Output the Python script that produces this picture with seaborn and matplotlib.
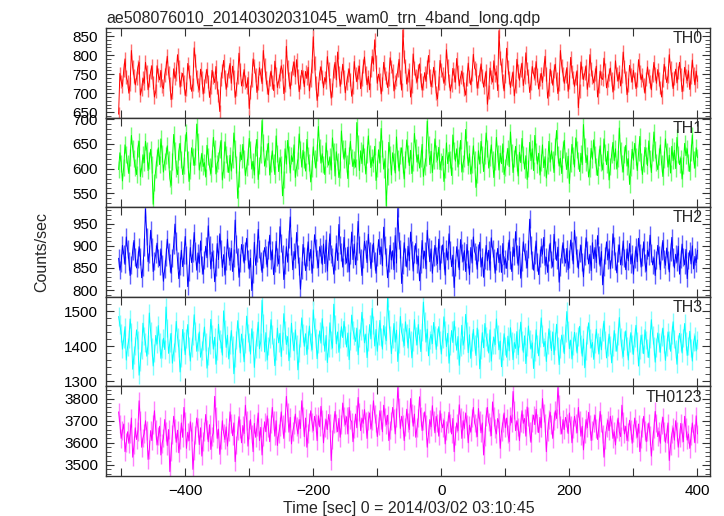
import numpy as np
import pandas as pd
import matplotlib
matplotlib.use("Agg")
import matplotlib.pyplot as plt
from matplotlib.ticker import MultipleLocator, FuncFormatter
import seaborn as sns

# light curve bins: start time [s] and bin width [s]
t_start = -504
bin_sec = 2

th0 = [
    645, 752, 731, 718, 760, 790, 742, 731, 700, 725, 812, 768, 745, 722, 739, 768, 781, 695, 710, 740, 726, 781, 756, 709, 733,
    756, 772, 728, 690, 705, 772, 748, 735, 760, 719, 712, 748, 767, 797, 754, 725, 683, 702, 764, 739, 751, 801, 770, 716, 738,
    752, 729, 694, 711, 778, 757, 730, 705, 723, 819, 786, 744, 721, 708, 763, 741, 698, 719, 745, 763, 731, 689, 717, 760, 741,
    728, 770, 715, 694, 652, 738, 759, 786, 744, 710, 734, 757, 778, 726, 771, 742, 689, 711, 743, 805, 762, 719, 737, 762, 729,
    715, 741, 660, 703, 734, 790, 771, 748, 702, 727, 767, 749, 725, 812, 774, 741, 716, 696, 738, 758, 730, 707, 784, 752, 715,
    732, 749, 772, 758, 699, 722, 823, 769, 737, 711, 740, 766, 782, 743, 788, 746, 704, 729, 760, 744, 717, 757, 739, 768, 706,
    735, 772, 848, 779, 727, 681, 712, 753, 769, 744, 714, 741, 729, 796, 763, 723, 687, 709, 759, 781, 735, 808, 754, 718, 741,
    776, 742, 701, 726, 747, 764, 736, 692, 715, 783, 750, 730, 755, 771, 712, 738, 771, 795, 753, 722, 744, 709, 761, 797, 776,
    840, 781, 726, 750, 734, 698, 724, 781, 752, 741, 715, 738, 793, 770, 758, 706, 729, 736, 760, 789, 742, 708, 866, 796, 772,
    724, 747, 761, 690, 718, 803, 766, 745, 729, 758, 777, 735, 708, 726, 754, 731, 768, 799, 745, 717, 733, 768, 742, 701, 685,
    727, 786, 760, 750, 726, 739, 814, 772, 733, 706, 721, 765, 748, 729, 791, 755, 719, 742, 757, 737, 711, 695, 736, 779, 744,
    722, 749, 802, 766, 760, 713, 731, 751, 777, 745, 716, 738, 758, 671, 704, 766, 742, 729, 785, 747, 756, 707, 864, 792, 774,
    732, 706, 744, 818, 769, 741, 715, 738, 756, 693, 718, 789, 758, 734, 761, 779, 720, 743, 806, 765, 746, 702, 727, 770, 752,
    739, 783, 748, 711, 736, 752, 728, 763, 797, 751, 687, 712, 763, 744, 721, 758, 776, 738, 699, 724, 812, 773, 750, 726, 745,
    767, 705, 729, 794, 757, 741, 718, 740, 759, 662, 706, 782, 754, 736, 753, 772, 710, 734, 801, 764, 743, 727, 749, 771, 690,
    718, 758, 740, 736, 792, 761, 714, 733, 749, 766, 737, 703, 726, 785, 751, 732, 755, 719, 746, 808, 770, 741, 696, 722, 773,
    748, 729, 760, 738, 712, 734, 788, 757, 735, 748, 721, 700, 738, 769, 745, 731, 709, 747, 781, 752, 726, 762, 738, 715, 690,
    733, 776, 754, 728, 745, 801, 766, 738, 712, 740, 763, 727, 754, 781, 749, 704, 723, 768, 745, 733, 759, 710, 742, 787, 750,
    722, 758, 731,
]

th1 = [
    598, 632, 611, 575, 603, 648, 629, 611, 590, 622, 667, 641, 620, 603, 588, 641, 655, 584, 601, 628, 612, 655, 637, 596, 617,
    639, 608, 528, 572, 598, 623, 642, 608, 660, 631, 593, 615, 627, 646, 618, 580, 566, 614, 669, 637, 601, 588, 635, 651, 619,
    588, 607, 652, 673, 619, 574, 597, 642, 625, 606, 625, 690, 654, 597, 612, 631, 604, 612, 583, 647, 624, 604, 590, 621, 663,
    640, 589, 611, 616, 638, 657, 577, 598, 654, 628, 610, 592, 627, 595, 618, 672, 641, 608, 540, 579, 633, 618, 649, 620, 586,
    603, 624, 661, 639, 599, 615, 587, 642, 659, 578, 606, 629, 697, 652, 605, 620, 634, 651, 587, 611, 636, 613, 588, 666, 630,
    594, 622, 609, 545, 578, 640, 609, 657, 629, 591, 626, 614, 648, 582, 603, 617, 670, 638, 603, 637, 618, 595, 659, 626, 612,
    573, 601, 644, 620, 601, 632, 685, 643, 611, 630, 609, 588, 652, 621, 607, 624, 597, 662, 635, 585, 634, 615, 582, 598, 676,
    640, 619, 641, 611, 580, 627, 655, 622, 604, 618, 603, 693, 651, 596, 636, 610, 648, 624, 589, 629, 666, 631, 602, 623, 611,
    645, 576, 601, 638, 611, 681, 640, 599, 620, 525, 584, 653, 628, 587, 632, 614, 591, 664, 621, 595, 626, 642, 609, 579, 619,
    658, 630, 606, 637, 590, 612, 671, 642, 613, 628, 601, 620, 649, 584, 605, 622, 696, 648, 608, 635, 592, 617, 660, 631, 617,
    643, 598, 614, 625, 574, 599, 652, 610, 633, 618, 586, 668, 637, 615, 640, 603, 627, 657, 593, 611, 621, 679, 638, 606, 630,
    589, 608, 646, 618, 562, 587, 636, 609, 655, 629, 594, 627, 672, 641, 601, 623, 648, 619, 582, 614, 663, 630, 597, 631, 610,
    650, 588, 603, 625, 641, 604, 674, 633, 592, 620, 645, 612, 585, 633, 612, 661, 628, 599, 626, 578, 601, 653, 616, 640, 596,
    667, 634, 609, 631, 587, 613, 648, 602, 624, 581, 606, 655, 613, 636, 619, 592, 644, 677, 628, 605, 621, 590, 639, 657, 616,
    598, 625, 570, 611, 649, 627, 603, 662, 638, 616, 594, 631, 608, 689, 645, 612, 626, 583, 601, 641, 619, 658, 629, 604, 586,
    623, 646, 612, 597, 660, 632, 608, 635, 577, 604, 628, 653, 616, 640, 599, 621, 682, 636, 610, 593, 629, 647, 605, 620, 568,
    602, 639, 617, 651, 624, 596, 632, 665, 614, 588, 610, 643, 627, 606, 656, 620, 592, 633, 674, 639, 612, 598, 625, 648, 611,
    584, 619, 660, 635, 603, 627, 591, 645, 616, 637, 600, 663, 629, 608, 621, 579, 606, 651, 626, 640, 613, 594, 632, 668, 618,
    601, 642, 622,
]

th2 = [
    872, 845, 861, 901, 882, 858, 920, 893, 866, 833, 857, 889, 912, 874, 850, 869, 898, 876, 828, 851, 897, 983, 921, 864, 881,
    935, 897, 842, 866, 881, 906, 873, 855, 893, 860, 820, 848, 874, 915, 887, 861, 838, 872, 902, 949, 910, 867, 826, 854, 890,
    853, 878, 921, 879, 808, 840, 896, 862, 883, 930, 889, 845, 884, 860, 911, 857, 836, 868, 899, 873, 945, 902, 848, 886, 871,
    819, 853, 905, 869, 927, 892, 851, 880, 834, 866, 915, 877, 866, 894, 842, 873, 958, 904, 876, 829, 862, 903, 885, 861, 888,
    917, 871, 847, 872, 799, 836, 908, 856, 884, 937, 893, 865, 840, 871, 896, 879, 852, 890, 924, 868, 891, 835, 862, 910, 874,
    859, 943, 906, 881, 824, 857, 898, 863, 916, 965, 899, 846, 887, 871, 930, 882, 855, 802, 845, 903, 877, 844, 874, 909, 866,
    892, 838, 870, 925, 896, 870, 851, 898, 882, 858, 904, 860, 913, 843, 889, 927, 881, 874, 836, 866, 905, 867, 948, 901, 886,
    852, 919, 878, 861, 897, 841, 879, 931, 869, 904, 857, 888, 955, 903, 872, 833, 870, 910, 893, 862, 926, 889, 849, 884, 906,
    865, 838, 875, 914, 880, 897, 855, 942, 901, 875, 828, 861, 901, 868, 889, 846, 923, 861, 984, 912, 893, 815, 857, 907, 874,
    852, 899, 866, 931, 890, 843, 882, 905, 859, 876, 821, 859, 912, 870, 888, 848, 935, 897, 864, 893, 838, 874, 901, 877, 860,
    915, 846, 881, 902, 867, 834, 894, 868, 927, 891, 853, 879, 806, 851, 898, 872, 846, 914, 883, 865, 889, 842, 903, 870, 835,
    896, 861, 920, 887, 879, 847, 885, 908, 852, 874, 829, 867, 901, 866, 890, 845, 918, 894, 873, 838, 866, 894, 862, 881, 840,
    905, 857, 871, 849, 888, 913, 868, 842, 897, 876, 932, 881, 856, 899, 827, 864, 909, 887, 871, 850, 893, 960, 902, 868, 845,
    879, 911, 863, 835, 872, 898, 881, 919, 856, 874, 840, 885, 906, 869, 852, 926, 890, 867, 897, 818, 853, 882, 907, 875, 861,
    894, 846, 871, 913, 888, 859, 935, 902, 872, 849, 883, 901, 864, 830, 876, 918, 890, 859, 881, 844, 907, 871, 896, 862, 923,
    880, 854, 887, 812, 851, 878, 909, 868, 893, 848, 871, 927, 899, 866, 839, 884, 902, 857, 876, 911, 873, 846, 893, 866, 905,
    859, 882, 836, 870, 898, 864, 917, 885, 852, 874, 909, 861, 843, 890, 876, 924, 883, 857, 872, 833, 868, 901, 879, 846, 888,
    912, 871, 856, 895, 868, 841, 886, 919, 874, 850, 881, 863, 899, 836, 870, 904, 875, 857, 892, 826, 867, 889, 859, 900, 848,
    876, 862, 890,
]

th3 = [
    1485, 1462, 1438, 1392, 1421, 1456, 1361, 1398, 1420, 1478, 1441, 1335, 1376, 1402, 1447, 1419, 1318, 1357, 1389, 1466, 1430, 1411, 1372, 1405, 1495,
    1442, 1398, 1344, 1381, 1431, 1407, 1459, 1412, 1366, 1394, 1423, 1391, 1512, 1453, 1380, 1411, 1437, 1352, 1384, 1409, 1471, 1426, 1395, 1327, 1368,
    1448, 1415, 1376, 1422, 1462, 1401, 1358, 1397, 1429, 1490, 1444, 1386, 1412, 1441, 1369, 1388, 1416, 1455, 1413, 1338, 1372, 1404, 1477, 1436, 1392,
    1426, 1349, 1387, 1463, 1420, 1410, 1375, 1501, 1449, 1397, 1432, 1364, 1403, 1445, 1403, 1322, 1368, 1418, 1473, 1425, 1381, 1435, 1399, 1356, 1408,
    1486, 1439, 1412, 1378, 1450, 1417, 1340, 1392, 1427, 1469, 1393, 1413, 1531, 1467, 1384, 1439, 1361, 1400, 1421, 1476, 1434, 1398, 1345, 1387, 1452,
    1410, 1437, 1371, 1416, 1493, 1446, 1405, 1428, 1359, 1397, 1466, 1416, 1387, 1447, 1405, 1333, 1382, 1424, 1481, 1437, 1400, 1436, 1377, 1418, 1458,
    1413, 1390, 1504, 1456, 1422, 1365, 1408, 1444, 1409, 1479, 1431, 1386, 1431, 1354, 1396, 1467, 1418, 1395, 1520, 1462, 1407, 1441, 1383, 1420, 1456,
    1425, 1471, 1433, 1398, 1438, 1362, 1415, 1489, 1447, 1430, 1414, 1452, 1376, 1423, 1443, 1497, 1455, 1410, 1435, 1368, 1412, 1462, 1421, 1508, 1460,
    1401, 1448, 1386, 1429, 1474, 1427, 1392, 1459, 1433, 1416, 1537, 1478, 1433, 1379, 1420, 1465, 1412, 1446, 1357, 1408, 1485, 1440, 1425, 1402, 1470,
    1439, 1395, 1451, 1418, 1367, 1414, 1476, 1430, 1404, 1462, 1422, 1385, 1440, 1526, 1471, 1412, 1449, 1373, 1419, 1434, 1408, 1468, 1432, 1391, 1427,
    1456, 1419, 1378, 1420, 1484, 1445, 1399, 1437, 1352, 1402, 1445, 1411, 1472, 1431, 1389, 1428, 1346, 1398, 1460, 1403, 1419, 1491, 1443, 1382, 1433,
    1366, 1412, 1448, 1407, 1374, 1452, 1423, 1336, 1389, 1439, 1396, 1465, 1428, 1412, 1381, 1447, 1358, 1404, 1426, 1405, 1478, 1435, 1390, 1415, 1342,
    1388, 1436, 1401, 1369, 1429, 1387, 1453, 1414, 1362, 1411, 1394, 1442, 1376, 1423, 1469, 1417, 1383, 1430, 1351, 1399, 1458, 1421, 1392, 1410, 1337,
    1385, 1447, 1406, 1373, 1424, 1481, 1436, 1399, 1414, 1357, 1403, 1450, 1420, 1388, 1441, 1376, 1416, 1463, 1401, 1348, 1394, 1432, 1409, 1379, 1437,
    1499, 1445, 1393, 1418, 1364, 1402, 1440, 1414, 1381, 1428, 1457, 1406, 1372, 1421, 1339, 1386, 1433, 1467, 1422, 1395, 1411, 1363, 1408, 1449, 1412,
    1378, 1426, 1390, 1441, 1472, 1418, 1367, 1399, 1435, 1404, 1353, 1398, 1445, 1413, 1386, 1430, 1482, 1427, 1394, 1371, 1417, 1444, 1400, 1361, 1409,
    1439, 1405, 1377, 1425, 1460, 1414, 1344, 1391, 1432, 1408, 1379, 1447, 1418, 1396, 1368, 1421, 1476, 1433, 1402, 1355, 1397, 1438, 1411, 1383, 1427,
    1452, 1407, 1360, 1398, 1441, 1419, 1386, 1433, 1470, 1420, 1392, 1349, 1406, 1437, 1413, 1381, 1424, 1465, 1416, 1374, 1401, 1443, 1395, 1358, 1412,
    1430, 1387, 1418,
]

th0123 = [
    3740, 3685, 3620, 3655, 3685, 3560, 3602, 3650, 3598, 3641, 3712, 3535, 3590, 3668, 3615, 3650, 3790, 3702, 3580, 3622, 3642, 3700, 3655, 3525, 3571,
    3655, 3610, 3682, 3745, 3660, 3590, 3630, 3675, 3545, 3598, 3622, 3705, 3652, 3588, 3660, 3470, 3560, 3638, 3720, 3664, 3602, 3657, 3555, 3612, 3690,
    3625, 3760, 3698, 3575, 3648, 3610, 3695, 3652, 3480, 3565, 3635, 3712, 3670, 3592, 3668, 3540, 3607, 3650, 3728, 3661, 3605, 3682, 3570, 3628, 3645,
    3810, 3718, 3620, 3662, 3548, 3612, 3700, 3645, 3615, 3672, 3585, 3648, 3740, 3688, 3632, 3690, 3515, 3590, 3655, 3718, 3664, 3600, 3678, 3642, 3770,
    3702, 3585, 3660, 3705, 3640, 3560, 3688, 3625, 3672, 3735, 3610, 3670, 3545, 3628, 3695, 3650, 3722, 3668, 3605, 3685, 3760, 3702, 3630, 3700, 3588,
    3641, 3675, 3740, 3682, 3620, 3692, 3810, 3736, 3648, 3715, 3595, 3652, 3680, 3730, 3675, 3640, 3705, 3665, 3790, 3718, 3628, 3712, 3580, 3641, 3695,
    3745, 3692, 3655, 3720, 3690, 3610, 3722, 3672, 3765, 3705, 3600, 3668, 3705, 3660, 3728, 3690, 3520, 3615, 3688, 3742, 3690, 3650, 3710, 3625, 3682,
    3780, 3718, 3682, 3718, 3640, 3760, 3705, 3695, 3605, 3662, 3730, 3668, 3805, 3740, 3655, 3712, 3688, 3750, 3698, 3620, 3700, 3735, 3662, 3702, 3790,
    3730, 3690, 3628, 3676, 3745, 3705, 3650, 3770, 3716, 3682, 3725, 3610, 3658, 3698, 3760, 3712, 3640, 3715, 3850, 3760, 3665, 3720, 3685, 3610, 3672,
    3752, 3692, 3660, 3800, 3734, 3675, 3730, 3625, 3670, 3712, 3808, 3720, 3655, 3698, 3740, 3684, 3580, 3642, 3705, 3672, 3768, 3702, 3645, 3720, 3690,
    3630, 3745, 3692, 3668, 3702, 3595, 3655, 3685, 3738, 3690, 3640, 3710, 3560, 3632, 3690, 3655, 3772, 3715, 3620, 3700, 3665, 3735, 3684, 3600, 3680,
    3648, 3712, 3760, 3690, 3670, 3628, 3755, 3700, 3645, 3690, 3545, 3628, 3720, 3760, 3695, 3675, 3632, 3785, 3718, 3665, 3640, 3710, 3692, 3575, 3652,
    3690, 3735, 3668, 3712, 3640, 3605, 3722, 3690, 3832, 3748, 3655, 3700, 3672, 3610, 3690, 3745, 3688, 3710, 3630, 3762, 3720, 3650, 3602, 3690, 3725,
    3682, 3752, 3690, 3646, 3715, 3668, 3800, 3735, 3690, 3560, 3650, 3705, 3738, 3682, 3620, 3698, 3745, 3710, 3850, 3772, 3680, 3640, 3705, 3660, 3715,
    3690, 3642, 3735, 3680, 3600, 3662, 3720, 3688, 3645, 3760, 3702, 3630, 3675, 3568, 3640, 3705, 3668, 3738, 3682, 3610, 3655, 3690, 3725, 3664, 3615,
    3670, 3742, 3690, 3640, 3535, 3612, 3668, 3702, 3655, 3720, 3686, 3620, 3650, 3590, 3665, 3712, 3650, 3628, 3770, 3698, 3640, 3675, 3610, 3648, 3702,
    3660, 3598, 3645, 3712, 3662, 3625, 3685, 3560, 3618, 3670, 3720, 3655, 3605, 3648, 3690, 3632, 3540, 3610, 3665, 3742, 3690, 3628, 3652, 3598, 3680,
    3715, 3650, 3602, 3640, 3690, 3520, 3588, 3640, 3668, 3612, 3700, 3652, 3580, 3625, 3688, 3646, 3605, 3720, 3668, 3612, 3640, 3575, 3630, 3690, 3645,
    3600, 3722, 3640,
]

bands = ["TH0", "TH1", "TH2", "TH3", "TH0123"]
series = [th0, th1, th2, th3, th0123]
errors = [18, 17, 20, 26, 42]
colors = ["#ff0000", "#00ff00", "#0000ff", "#00ffff", "#ff00ff"]
err_colors = ["#ff7070", "#70ff70", "#6060ff", "#80ffff", "#ff80ff"]
ylims = [(636, 871), (522, 703), (785, 987), (1286, 1541), (3450, 3855)]
ymajor = [50, 50, 50, 100, 100]
yminor = [10, 10, 10, 20, 20]

sns.set_style("ticks")
plt.rcParams["font.family"] = ["Liberation Sans", "DejaVu Sans"]

fig, axes = plt.subplots(5, 1, figsize=(7.24, 5.16), dpi=100, sharex=True)
fig.subplots_adjust(left=0.147, right=0.981, top=0.9457, bottom=0.0775, hspace=0)

for i, ax in enumerate(axes):
    vals = series[i]
    df = pd.DataFrame({"time": t_start + bin_sec * np.arange(len(vals)), "rate": vals})
    # light error bars behind the curve, like the qdp output
    ax.vlines(df["time"], df["rate"] - errors[i], df["rate"] + errors[i],
              colors=err_colors[i], linewidth=1.0, zorder=1)
    sns.lineplot(data=df, x="time", y="rate", color=colors[i], lw=0.7,
                 estimator=None, ax=ax, zorder=2)
    ax.set_ylim(*ylims[i])
    ax.set_xlim(-523, 420)
    ax.set_xlabel("")
    ax.set_ylabel("")
    ax.yaxis.set_major_locator(MultipleLocator(ymajor[i]))
    ax.yaxis.set_minor_locator(MultipleLocator(yminor[i]))
    ax.xaxis.set_major_locator(MultipleLocator(100))
    ax.xaxis.set_major_formatter(FuncFormatter(
        lambda v, p: f"{int(v)}".replace("-", "\u2212") if int(round(v)) % 200 == 0 else ""))
    ax.tick_params(which="both", direction="in", top=True, right=True,
                   labelsize=11, colors="#333333", labelcolor="black", pad=6)
    ax.tick_params(which="major", length=6, width=0.8)
    ax.tick_params(which="minor", length=3.5, width=0.6)
    for s in ax.spines.values():
        s.set_linewidth(1.0)
        s.set_color("#333333")
        s.set_zorder(6)
    ax.text(0.987, 0.965, bands[i], transform=ax.transAxes, ha="right", va="top",
            fontsize=11.5, zorder=5)

axes[0].set_title("ae508076010_20140302031045_wam0_trn_4band_long.qdp",
                  loc="left", fontsize=11.5, pad=4)
axes[-1].set_xlabel("Time [sec] 0 = 2014/03/02 03:10:45", fontsize=11.5, labelpad=2)
fig.text(0.058, 0.512, "Counts/sec", rotation=90, ha="center", va="center", fontsize=11.5)

fig.savefig("out.png", dpi=100)
